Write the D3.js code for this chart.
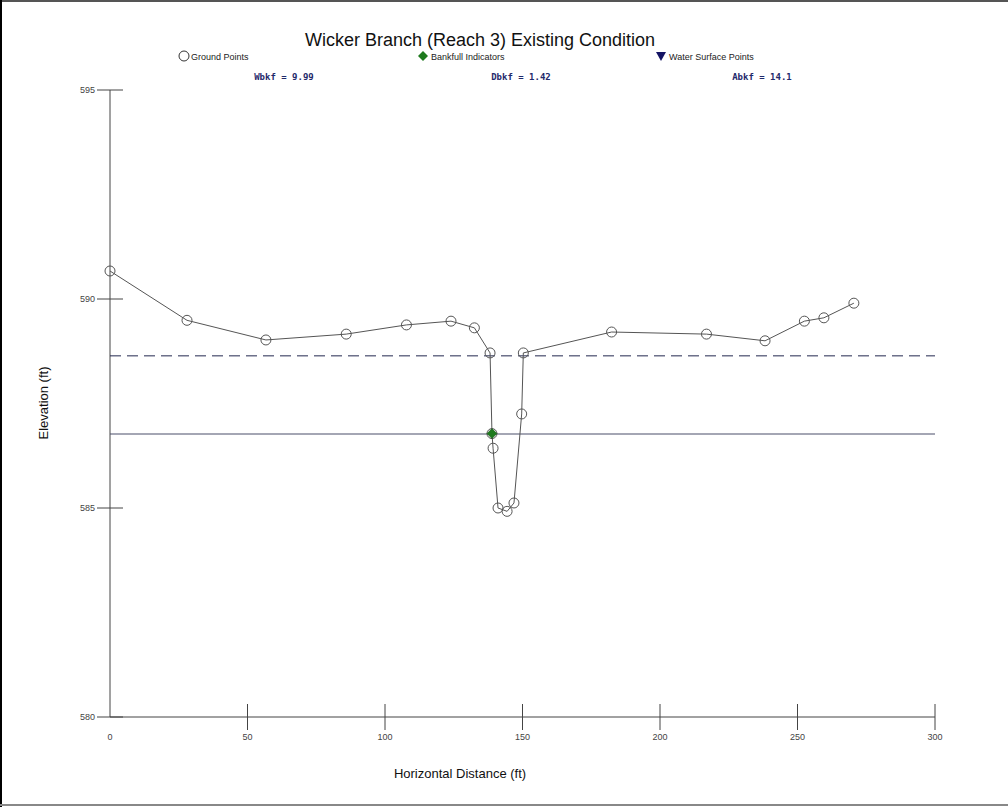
<!DOCTYPE html>
<html><head><meta charset="utf-8">
<script src="https://cdn.jsdelivr.net/npm/d3@7"></script>
<style>html,body{margin:0;padding:0;background:#fff;overflow:hidden}</style>
</head><body><svg id="c" width="1008" height="807"></svg>
<script>
const title = "Wicker Branch (Reach 3) Existing Condition";
const legendLabels = ["Ground Points", "Bankfull Indicators", "Water Surface Points"];
const statLabels = ["Wbkf = 9.99", "Dbkf = 1.42", "Abkf = 14.1"];
const xTicks = [0, 50, 100, 150, 200, 250, 300];
const yTicks = [580, 585, 590, 595];
const groundX = [0, 28, 56.7, 85.9, 107.8, 124, 132.5, 138.2, 138.9, 139.3, 141.1, 144.4, 146.9, 149.7, 150.3, 182.4, 216.9, 238.2, 252.5, 259.6, 270.5];
const groundY = [590.67, 589.49, 589.02, 589.16, 589.38, 589.47, 589.31, 588.71, 586.78, 586.43, 585.0, 584.92, 585.12, 587.25, 588.71, 589.21, 589.16, 589.0, 589.47, 589.55, 589.9];
const bankfullX = [138.9];
const bankfullY = [586.78];
const dashedLevel = 588.64;
const solidLevel = 586.77;

const svg = d3.select("#c");
const x = d3.scaleLinear().domain([0, 300]).range([110, 935]);
const y = d3.scaleLinear().domain([580, 595]).range([717, 90]);
const diamond = r => `M0,${-r}L${r},0L0,${r}L${-r},0Z`;

// frame
svg.append("rect").attr("x",0).attr("y",0).attr("width",1008).attr("height",2).attr("fill","#555");
svg.append("rect").attr("x",0).attr("y",0).attr("width",2).attr("height",807).attr("fill","#000");
svg.append("rect").attr("x",0).attr("y",804).attr("width",1008).attr("height",2).attr("fill","#888");

// title
svg.append("text").attr("x",480).attr("y",46).attr("text-anchor","middle")
  .attr("font-family","Liberation Sans, Arial, sans-serif").attr("font-size",18).attr("fill","#111").text(title);

// legend
const lg = svg.append("g").attr("font-family","Liberation Sans, Arial, sans-serif").attr("font-size",9).attr("fill","#222");
lg.append("circle").attr("cx",184).attr("cy",56).attr("r",5).attr("fill","#fff").attr("stroke","#333");
lg.append("text").attr("x",191).attr("y",59.5).text(legendLabels[0]);
lg.append("path").attr("d", diamond(5)).attr("transform","translate(423,56)").attr("fill","#1e7a1e");
lg.append("text").attr("x",431).attr("y",59.5).text(legendLabels[1]);
lg.append("path").attr("d","M-5,-4L5,-4L0,5Z").attr("transform","translate(661,56)").attr("fill","#141464");
lg.append("text").attr("x",669).attr("y",59.5).text(legendLabels[2]);

// stats
const statX = [284, 521, 762];
statLabels.forEach((s,i)=>{
  svg.append("text").attr("x",statX[i]).attr("y",80).attr("text-anchor","middle")
    .attr("font-family","DejaVu Sans Mono, monospace").attr("font-weight","bold").attr("font-size",9)
    .attr("fill","#1f2a6b").text(s);
});

// axes
const axCol = "#444";
svg.append("line").attr("x1",110).attr("x2",110).attr("y1",y(595)).attr("y2",y(580)).attr("stroke",axCol);
svg.append("line").attr("x1",x(0)).attr("x2",x(300)).attr("y1",717).attr("y2",717).attr("stroke",axCol);
const gy = svg.append("g");
yTicks.forEach(t=>{
  gy.append("line").attr("x1",97).attr("x2",123).attr("y1",y(t)).attr("y2",y(t)).attr("stroke",axCol);
  gy.append("text").attr("x",95).attr("y",y(t)+3).attr("text-anchor","end")
    .attr("font-family","Liberation Sans, Arial, sans-serif").attr("font-size",9).attr("fill","#444").text(t);
});
const gx = svg.append("g");
xTicks.forEach(t=>{
  if (t>0) gx.append("line").attr("x1",x(t)).attr("x2",x(t)).attr("y1",704).attr("y2",730).attr("stroke",axCol);
  gx.append("text").attr("x",x(t)).attr("y",740).attr("text-anchor","middle")
    .attr("font-family","Liberation Sans, Arial, sans-serif").attr("font-size",9).attr("fill","#444").text(t);
});
svg.append("text").attr("transform","translate(48,403) rotate(-90)").attr("text-anchor","middle")
  .attr("font-family","Liberation Sans, Arial, sans-serif").attr("font-size",13).attr("fill","#111").text("Elevation (ft)");
svg.append("text").attr("x",460).attr("y",778).attr("text-anchor","middle")
  .attr("font-family","Liberation Sans, Arial, sans-serif").attr("font-size",13).attr("fill","#111").text("Horizontal Distance (ft)");

// level lines
svg.append("line").attr("x1",x(0)).attr("x2",x(300)).attr("y1",y(dashedLevel)).attr("y2",y(dashedLevel))
  .attr("stroke","#23284f").attr("stroke-dasharray","11,6").attr("stroke-width",1);
svg.append("line").attr("x1",x(0)).attr("x2",x(300)).attr("y1",y(solidLevel)).attr("y2",y(solidLevel))
  .attr("stroke","#4a4f6a").attr("stroke-width",1.2);

// ground profile
const pts = groundX.map((v,i)=>[v, groundY[i]]);
svg.append("path").attr("d", d3.line().x(d=>x(d[0])).y(d=>y(d[1]))(pts))
  .attr("fill","none").attr("stroke","#555").attr("stroke-width",1);
svg.selectAll("circle.g").data(pts).enter().append("circle").attr("class","g")
  .attr("cx",d=>x(d[0])).attr("cy",d=>y(d[1])).attr("r",5).attr("fill","none").attr("stroke","#555").attr("stroke-width",1);

// bankfull
bankfullX.forEach((v,i)=>{
  svg.append("path").attr("d", diamond(5)).attr("transform",`translate(${x(v)},${y(bankfullY[i])})`)
    .attr("fill","#1e7a1e").attr("stroke","#0f4a0f").attr("stroke-width",0.5);
});
</script></body></html>
